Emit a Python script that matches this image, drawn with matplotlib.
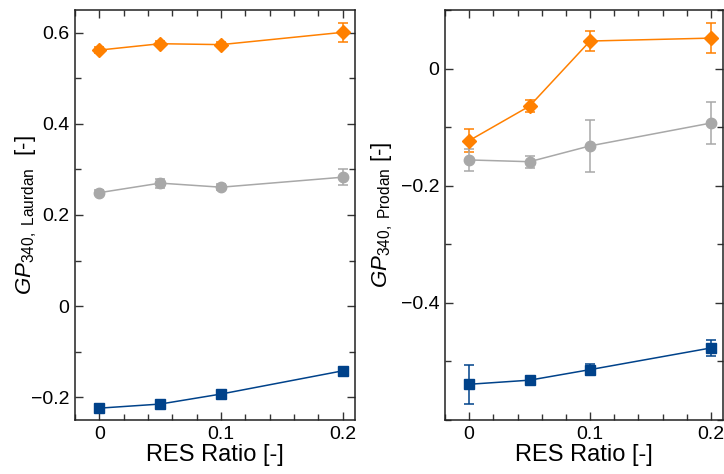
import matplotlib
matplotlib.use('Agg')
import matplotlib.pyplot as plt
from matplotlib.ticker import MultipleLocator, FixedLocator

plt.rcParams['font.family'] = ['Liberation Sans', 'DejaVu Sans']
plt.rcParams['mathtext.fontset'] = 'custom'
plt.rcParams['mathtext.rm'] = 'Liberation Sans'
plt.rcParams['mathtext.it'] = 'Liberation Sans:italic'

# RES ratio steps
res_ratio = [0, 0.05, 0.1, 0.2]

# Laurdan GP340
laurdan_orange = [0.562, 0.576, 0.574, 0.601]
laurdan_orange_err = [0.006, 0.006, 0.006, 0.021]
laurdan_gray = [0.249, 0.270, 0.261, 0.283]
laurdan_gray_err = [0.006, 0.010, 0.006, 0.018]
laurdan_blue = [-0.224, -0.215, -0.193, -0.142]
laurdan_blue_err = [0.005, 0.005, 0.006, 0.005]
laurdan_yticks = [-0.2, 0, 0.2, 0.4, 0.6]

# Prodan GP340
prodan_orange = [-0.123, -0.064, 0.047, 0.052]
prodan_orange_err = [0.019, 0.010, 0.017, 0.025]
prodan_gray = [-0.156, -0.159, -0.132, -0.093]
prodan_gray_err = [0.019, 0.010, 0.044, 0.036]
prodan_blue = [-0.539, -0.532, -0.514, -0.477]
prodan_blue_err = [0.033, 0.005, 0.010, 0.013]
prodan_yticks = [-0.4, -0.2, 0]

ORANGE = '#FF8000'
GRAY = '#A8A8A8'
BLUE = '#00428A'


def draw_panel(ax, series, ylim, yticks, ylabel, label_x):
    for y, err, color, marker in series:
        ax.errorbar(res_ratio, y, yerr=err, color=color, marker=marker,
                    markersize=7.5, linewidth=1.1, elinewidth=1.1,
                    capsize=3.5, capthick=1.1)
    ax.set_xlim(-0.02, 0.21)
    ax.set_ylim(*ylim)
    ax.xaxis.set_major_locator(FixedLocator([0, 0.1, 0.2]))
    ax.xaxis.set_minor_locator(MultipleLocator(0.02))
    ax.yaxis.set_major_locator(FixedLocator(yticks))
    ax.yaxis.set_minor_locator(MultipleLocator(0.1))
    ax.xaxis.set_major_formatter(plt.FuncFormatter(lambda v, p: f'{v:g}'))
    ax.yaxis.set_major_formatter(plt.FuncFormatter(
        lambda v, p: f'{v:g}'.replace('-', '\u2212')))
    ax.tick_params(which='both', direction='in', top=True, right=True,
                   labelsize=14, color='#333333')
    ax.tick_params(which='major', length=6, width=1, pad=4)
    ax.tick_params(which='minor', length=4, width=1)
    for s in ax.spines.values():
        s.set_linewidth(1.1)
        s.set_color('#222222')
    ax.set_xlabel('RES Ratio [-]', fontsize=17, labelpad=1)
    ax.set_ylabel(ylabel, fontsize=16)
    ax.yaxis.set_label_coords(label_x, 0.5)


fig = plt.figure(figsize=(7.24, 4.74), dpi=100)
ax1 = fig.add_axes([75 / 724, 54 / 474, 280 / 724, 410 / 474])
ax2 = fig.add_axes([445 / 724, 54 / 474, 278 / 724, 410 / 474])

draw_panel(ax1,
           [(laurdan_orange, laurdan_orange_err, ORANGE, 'D'),
            (laurdan_gray, laurdan_gray_err, GRAY, 'o'),
            (laurdan_blue, laurdan_blue_err, BLUE, 's')],
           (-0.25, 0.65), laurdan_yticks,
           r'$\mathit{GP}_{340,\ \mathrm{Laurdan}}$  [-]', -0.13)
draw_panel(ax2,
           [(prodan_orange, prodan_orange_err, ORANGE, 'D'),
            (prodan_gray, prodan_gray_err, GRAY, 'o'),
            (prodan_blue, prodan_blue_err, BLUE, 's')],
           (-0.6, 0.1), prodan_yticks,
           r'$\mathit{GP}_{340,\ \mathrm{Prodan}}$ [-]', -0.18)

fig.savefig('out.png', dpi=100)
